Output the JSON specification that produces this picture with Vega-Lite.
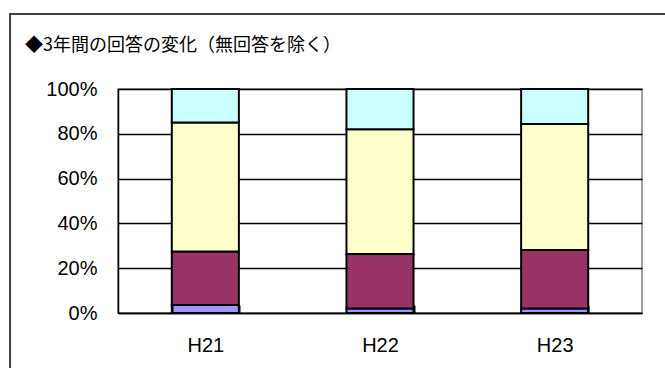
{
  "$schema": "https://vega.github.io/schema/vega-lite/v6.json",
  "width": 524,
  "height": 224,
  "autosize": {"type": "none"},
  "padding": {"left": 118, "top": 89, "right": 23, "bottom": 55},
  "background": "white",
  "title": {
    "text": "◆3年間の回答の変化（無回答を除く）",
    "anchor": "start",
    "frame": "group",
    "baseline": "bottom",
    "dx": -93,
    "offset": -60,
    "font": "Noto Sans CJK JP",
    "fontSize": 18,
    "fontWeight": "normal",
    "color": "#000000"
  },
  "config": {
    "view": {"stroke": "#808080", "strokeWidth": 1.5},
    "axis": {"labelFont": "Liberation Sans", "labelColor": "#000000", "labelFontSize": 20}
  },
  "layer": [
    {
      "data": {
        "values": [
          {"year": "H21", "k": 1, "value": 3.6},
          {"year": "H21", "k": 2, "value": 23.8},
          {"year": "H21", "k": 3, "value": 57.7},
          {"year": "H21", "k": 4, "value": 14.9},
          {"year": "H22", "k": 1, "value": 2.0},
          {"year": "H22", "k": 2, "value": 24.3},
          {"year": "H22", "k": 3, "value": 55.7},
          {"year": "H22", "k": 4, "value": 18.0},
          {"year": "H23", "k": 1, "value": 2.0},
          {"year": "H23", "k": 2, "value": 26.1},
          {"year": "H23", "k": 3, "value": 56.3},
          {"year": "H23", "k": 4, "value": 15.6}
        ]
      },
      "mark": {"type": "bar", "stroke": "#000000", "strokeWidth": 2},
      "encoding": {
        "x": {
          "field": "year",
          "type": "nominal",
          "scale": {"paddingInner": 0.616, "paddingOuter": 0.308},
          "axis": {
            "title": null,
            "labelAngle": 0,
            "domainColor": "#000000",
            "domainWidth": 1.5,
            "ticks": true,
            "tickBand": "extent",
            "tickOffset": 54,
            "tickColor": "#000000",
            "tickWidth": 2,
            "tickSize": -8,
            "labelPadding": 30,
            "grid": false,
            "zindex": 1
          }
        },
        "y": {
          "field": "value",
          "type": "quantitative",
          "stack": "normalize",
          "scale": {"domain": [0, 1]},
          "axis": {
            "title": null,
            "format": ".0%",
            "values": [0, 0.2, 0.4, 0.6, 0.8, 1],
            "ticks": false,
            "labelPadding": 21,
            "domainColor": "#000000",
            "domainWidth": 1.5,
            "grid": true,
            "gridColor": "#000000",
            "gridWidth": 1.5,
            "gridOpacity": 1,
            "zindex": 0
          }
        },
        "color": {
          "field": "k",
          "type": "ordinal",
          "scale": {"domain": [1, 2, 3, 4], "range": ["#9999FF", "#993366", "#FFFFCC", "#CCFFFF"]},
          "legend": null
        },
        "order": {"field": "k", "type": "ordinal"}
      }
    },
    {
      "data": {"values": [{"frame": "outer"}]},
      "mark": {"type": "rect", "fill": null, "stroke": "#404040", "strokeWidth": 2, "clip": false},
      "encoding": {
        "x": {"datum": -0.206, "type": "quantitative", "scale": {"domain": [0, 1]}, "axis": null},
        "x2": {"datum": 1.3},
        "y": {"datum": 1.335, "type": "quantitative", "scale": {"domain": [0, 1]}, "axis": null},
        "y2": {"datum": -0.5}
      }
    }
  ],
  "resolve": {"scale": {"x": "independent", "y": "independent"}}
}
